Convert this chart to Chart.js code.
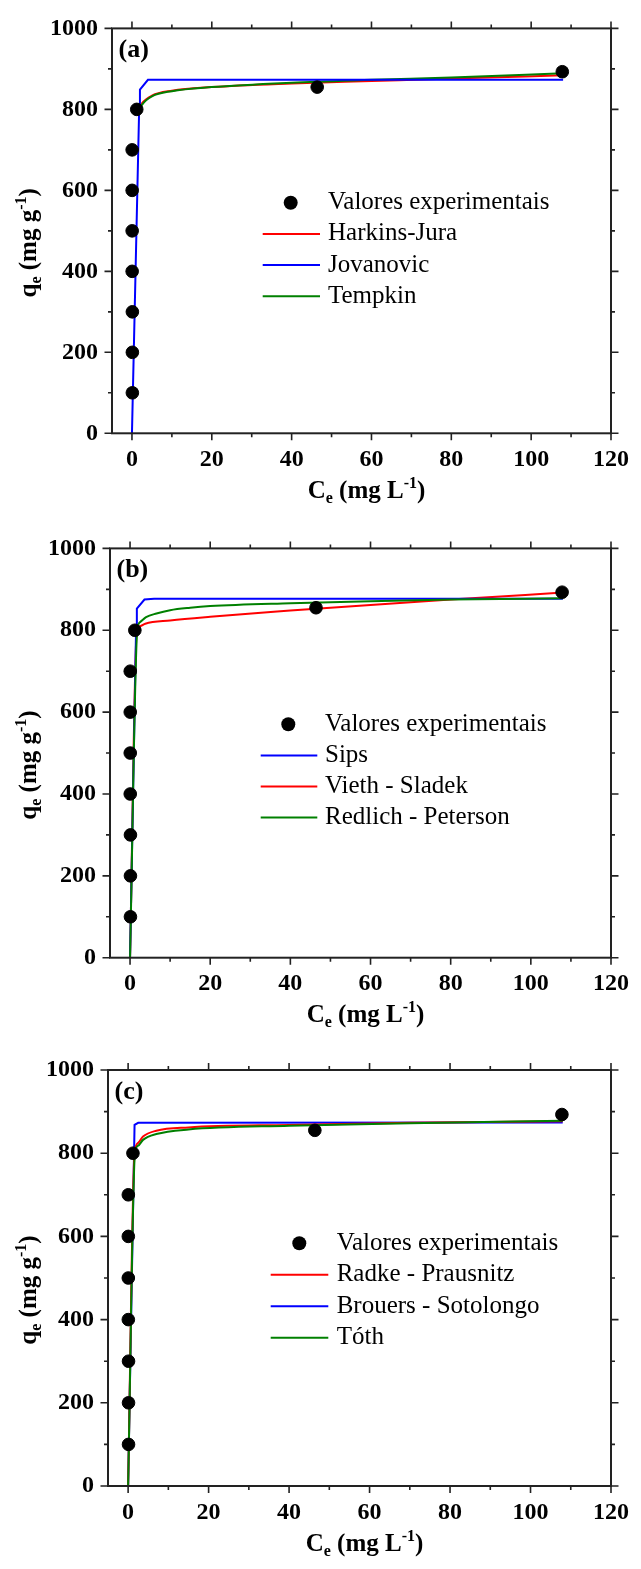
<!DOCTYPE html>
<html>
<head>
<meta charset="utf-8">
<script src="https://cdn.jsdelivr.net/npm/chart.js@4.4.0/dist/chart.umd.min.js"></script>
<style>
  body { margin: 0; background: #fff; }
  .panel { position: absolute; left: 0; width: 641px; }
  canvas { display: block; }
</style>
</head>
<body>
<div class="panel" style="top:0"><canvas id="chartA" width="641" height="520"></canvas></div>
<div class="panel" style="top:520px"><canvas id="chartB" width="641" height="520"></canvas></div>
<div class="panel" style="top:1040px"><canvas id="chartC" width="641" height="529"></canvas></div>
<script>
// Experimental points (same in all three panels)
const ceExp = [0.1, 0.1, 0.1, 0.05, 0.05, 0.05, 0.05, 1.2, 46.4, 107.8];
const qeExp = [100, 200, 300, 400, 500, 600, 700, 800, 855, 893];

// (a) two-parameter models
const ceHarkins = [1.8, 2.5, 5, 10, 20, 40, 60, 80, 108];
const qeHarkins = [802, 815, 834, 846, 855, 864, 870, 876, 884];
const ceJovanovic = [0, 1.8, 2.0, 4.0, 108];
const qeJovanovic = [0, 800, 849, 873, 873];
const ceTempkin = [1.8, 2.5, 5, 10, 20, 40, 60, 80, 108];
const qeTempkin = [797, 811, 832, 845, 855, 866, 873, 879, 889];

// (b) three-parameter models
const ceSips = [0, 1.5, 1.7, 3.6, 6, 108];
const qeSips = [0, 800, 853, 875, 877, 877];
const ceVieth = [0, 1.7, 2.5, 3.8, 10, 20, 40, 60, 80, 108];
const qeVieth = [0, 800, 810, 816, 824, 833, 848, 862, 875, 892];
const ceRedlich = [0, 1.8, 2.5, 4, 6.6, 10, 15, 20, 40, 60, 80, 108];
const qeRedlich = [0, 800, 820, 832, 841, 849, 855, 859, 866, 871, 875, 878];

// (c) three-parameter models
const ceRadke = [0, 1.6, 2.5, 3.7, 7, 15, 40, 70, 108];
const qeRadke = [0, 800, 825, 840, 854, 862, 868, 873, 877];
const ceBrouers = [0, 1.6, 2.5, 108];
const qeBrouers = [0, 868, 873, 874];
const ceToth = [0, 1.7, 2.5, 3.7, 7, 15, 40, 70, 108];
const qeToth = [0, 800, 818, 832, 846, 857, 866, 872, 878];

const serif = '"Liberation Serif", "Times New Roman", serif';
const tickFont = { family: serif, size: 24, weight: 'bold' };

const pts = (xs, ys) => xs.map((x, i) => ({ x: x, y: ys[i] }));

function pointSet() {
    return {
        label: 'Valores experimentais',
        data: pts(ceExp, qeExp),
        showLine: false,
        pointRadius: 6.3,
        pointBackgroundColor: '#000',
        pointBorderColor: '#000',
        pointBorderWidth: 1,
        order: 0
    };
}

function lineSet(label, xs, ys, color, order, smooth) {
    return {
        label: label,
        data: pts(xs, ys),
        showLine: true,
        borderColor: color,
        backgroundColor: color,
        borderWidth: 2,
        pointRadius: 0,
        cubicInterpolationMode: smooth ? 'monotone' : 'default',
        tension: 0,
        order: order
    };
}

// draws subscript/superscript text centred at x
function richText(ctx, parts, x, y) {
    let w = 0;
    parts.forEach(p => { ctx.font = 'bold ' + p[1] + 'px ' + serif; w += ctx.measureText(p[0]).width; });
    let cx = x - w / 2;
    parts.forEach(p => {
        ctx.font = 'bold ' + p[1] + 'px ' + serif;
        ctx.fillText(p[0], cx, y + p[2]);
        cx += ctx.measureText(p[0]).width;
    });
}

const xTitle = [['C', 25, 0], ['e', 16, 5], [' (mg L', 25, 0], ['-1', 16, -10], [')', 25, 0]];
const yTitle = [['q', 25, 0], ['e', 16, 5], [' (mg g', 25, 0], ['-1', 16, -10], [')', 25, 0]];

// frame, ticks, titles, panel letter and in-plot legend
const decor = {
    id: 'decor',
    afterDraw(chart, args, o) {
        const ctx = chart.ctx, a = chart.chartArea;
        const xs = chart.scales.x, ys = chart.scales.y;
        ctx.save();
        ctx.strokeStyle = '#222';
        ctx.lineWidth = 2;
        ctx.strokeRect(a.left, a.top, a.right - a.left, a.bottom - a.top);
        ctx.lineWidth = 1.6;
        ctx.beginPath();
        xs.ticks.forEach(t => {
            const p = xs.getPixelForValue(t.value);
            const len = t.value % 20 === 0 ? 7 : 4;
            ctx.moveTo(p, a.bottom); ctx.lineTo(p, a.bottom + len);
            ctx.moveTo(p, a.top); ctx.lineTo(p, a.top - len);
        });
        ys.ticks.forEach(t => {
            const p = ys.getPixelForValue(t.value);
            const len = t.value % 200 === 0 ? 7.5 : 4;
            ctx.moveTo(a.left, p); ctx.lineTo(a.left - len, p);
            ctx.moveTo(a.right, p); ctx.lineTo(a.right + len, p);
        });
        ctx.stroke();

        ctx.fillStyle = '#000';
        ctx.textBaseline = 'alphabetic';
        ctx.textAlign = 'left';
        richText(ctx, xTitle, (a.left + a.right) / 2 + 5, a.bottom + 64.7);
        ctx.save();
        ctx.translate(35.5, (a.top + a.bottom) / 2 + 12);
        ctx.rotate(-Math.PI / 2);
        richText(ctx, yTitle, 0, 0);
        ctx.restore();

        ctx.font = 'bold 26px ' + serif;
        ctx.fillText(o.letter, a.left + 6.5, a.top + 29);

        // legend
        const lg = o.legend;
        ctx.font = '25px ' + serif;
        ctx.textBaseline = 'middle';
        chart.data.datasets.forEach((ds, i) => {
            const y = lg.y + i * lg.gap;
            if (ds.showLine) {
                ctx.strokeStyle = ds.borderColor;
                ctx.lineWidth = 2;
                ctx.beginPath();
                ctx.moveTo(lg.x0, y); ctx.lineTo(lg.x1, y);
                ctx.stroke();
            } else {
                ctx.beginPath();
                ctx.arc(lg.cx, y, 7, 0, Math.PI * 2);
                ctx.fill();
            }
            ctx.fillText(ds.label, lg.tx, y);
        });
        ctx.restore();
    }
};

function makeChart(id, lines, g) {
    return new Chart(document.getElementById(id), {
        type: 'scatter',
        data: { datasets: [pointSet()].concat(lines) },
        options: {
            responsive: false,
            animation: false,
            layout: { padding: { left: 0, top: g.top, right: 641 - g.right, bottom: g.h - g.bottom - 50 } },
            plugins: {
                legend: { display: false },
                tooltip: { enabled: false },
                decor: { letter: g.letter, legend: g.legend }
            },
            scales: {
                x: {
                    type: 'linear', min: -5, max: 120,
                    grid: { display: false, drawTicks: false },
                    border: { display: false },
                    afterFit: s => { s.height = 50; },
                    ticks: {
                        stepSize: 10, includeBounds: false, autoSkip: false, maxRotation: 0,
                        padding: 12, color: '#000', font: tickFont,
                        callback: v => (v % 20 === 0 ? String(v) : '')
                    }
                },
                y: {
                    type: 'linear', min: 0, max: 1000,
                    grid: { display: false, drawTicks: false },
                    border: { display: false },
                    afterFit: s => { s.width = g.left; },
                    ticks: {
                        stepSize: 100, autoSkip: false, padding: 14, color: '#000', font: tickFont,
                        callback: v => (v % 200 === 0 ? String(v) : '')
                    }
                }
            }
        },
        plugins: [decor]
    });
}

makeChart('chartA', [
    lineSet('Harkins-Jura', ceHarkins, qeHarkins, '#ff0000', 3, true),
    lineSet('Jovanovic', ceJovanovic, qeJovanovic, '#0000ff', 1, false),
    lineSet('Tempkin', ceTempkin, qeTempkin, '#008000', 2, true)
], { letter: '(a)', top: 24, bottom: 433.3, left: 112, right: 620, h: 520,
     legend: { cx: 290.7, x0: 262.7, x1: 320, tx: 328, y: 202.7, gap: 31.2 } });

makeChart('chartB', [
    lineSet('Sips', ceSips, qeSips, '#0000ff', 2, false),
    lineSet('Vieth - Sladek', ceVieth, qeVieth, '#ff0000', 3, true),
    lineSet('Redlich - Peterson', ceRedlich, qeRedlich, '#008000', 1, true)
], { letter: '(b)', top: 26, bottom: 437.7, left: 110, right: 618, h: 520,
     legend: { cx: 288.3, x0: 260.7, x1: 317.3, tx: 325, y: 204.3, gap: 31.1 } });

makeChart('chartC', [
    lineSet('Radke - Prausnitz', ceRadke, qeRadke, '#ff0000', 2, true),
    lineSet('Brouers - Sotolongo', ceBrouers, qeBrouers, '#0000ff', 3, false),
    lineSet('Tóth', ceToth, qeToth, '#008000', 1, true)
], { letter: '(c)', top: 30, bottom: 446, left: 108, right: 616.5, h: 529,
     legend: { cx: 299.3, x0: 270.7, x1: 328.3, tx: 336.7, y: 203.3, gap: 31.5 } });
</script>
</body>
</html>
